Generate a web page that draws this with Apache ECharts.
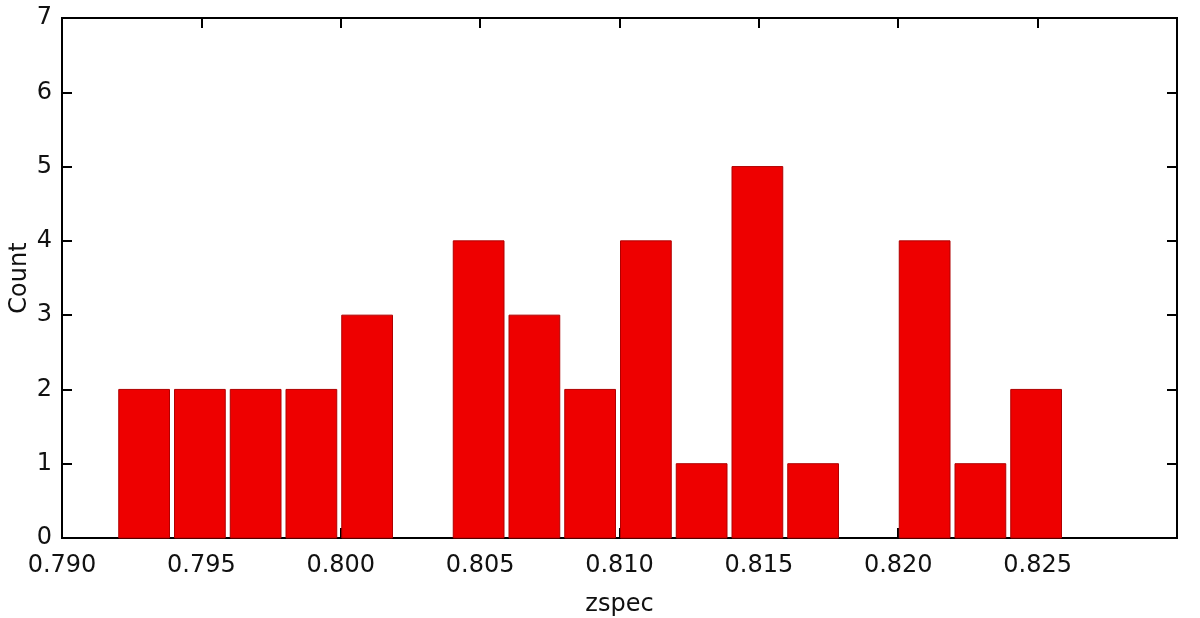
<!DOCTYPE html>
<html>
<head>
<meta charset="utf-8">
<script src="https://cdn.jsdelivr.net/npm/echarts@6/dist/echarts.min.js"></script>
<style>
  html, body { margin: 0; padding: 0; background: #fff; }
  #chart { width: 1200px; height: 618px; }
</style>
</head>
<body>
<div id="chart"></div>
<script>
  // histogram bins (left edge, right edge) and counts
  const binStart = [0.792, 0.794, 0.796, 0.798, 0.800, 0.802, 0.804, 0.806, 0.808,
                    0.810, 0.812, 0.814, 0.816, 0.818, 0.820, 0.822, 0.824];
  const binEnd = [0.794, 0.796, 0.798, 0.800, 0.802, 0.804, 0.806, 0.808, 0.810,
                  0.812, 0.814, 0.816, 0.818, 0.820, 0.822, 0.824, 0.826];
  const counts = [2, 2, 2, 2, 3, 0, 4, 3, 2, 4, 1, 5, 1, 0, 4, 1, 2];
  const xTicks = ['0.790', '0.795', '0.800', '0.805', '0.810', '0.815', '0.820', '0.825'];

  const font = 'DejaVu Sans';
  const txt = '#111';

  const chart = echarts.init(document.getElementById('chart'));

  const barData = [];
  for (let i = 0; i < counts.length; i++) {
    if (counts[i] > 0) barData.push([binStart[i], binEnd[i], counts[i]]);
  }

  // shared axis bits
  const line = { show: true, onZero: false, lineStyle: { color: '#000', width: 2 } };
  const tick = { show: true, inside: true, length: 10, lineStyle: { color: '#000', width: 2 } };

  const option = {
    animation: false,
    backgroundColor: '#fff',
    grid: {
      left: 62, right: 23, top: 18, bottom: 80,
      outerBoundsMode: 'none',
      show: true, borderColor: '#000', borderWidth: 2,
    },
    xAxis: [
      {
        type: 'value',
        gridIndex: 0,
        min: 0.790,
        max: 0.830,
        interval: 0.005,
        name: 'zspec',
        nameLocation: 'middle',
        nameGap: 55,
        nameMoveOverlap: false,
        nameTextStyle: { fontFamily: font, fontSize: 24, color: txt },
        axisLine: line,
        axisTick: tick,
        splitLine: { show: false },
        axisLabel: {
          margin: 16,
          fontFamily: font,
          fontSize: 24,
          color: txt,
          formatter: v => {
            const s = v.toFixed(3);
            return xTicks.indexOf(s) >= 0 ? s : '';
          },
        },
      },
      {
        type: 'value',
        gridIndex: 0,
        position: 'top',
        min: 0.790,
        max: 0.830,
        interval: 0.005,
        axisLine: line,
        axisTick: tick,
        axisLabel: { show: false },
        splitLine: { show: false },
      },
    ],
    yAxis: [
      {
        type: 'value',
        gridIndex: 0,
        min: 0,
        max: 7,
        interval: 1,
        name: 'Count',
        nameLocation: 'middle',
        nameGap: 30,
        nameMoveOverlap: false,
        nameRotate: 90,
        nameTextStyle: { fontFamily: font, fontSize: 24, color: txt },
        axisLine: line,
        axisTick: tick,
        splitLine: { show: false },
        axisLabel: { margin: 10, fontFamily: font, fontSize: 24, color: txt },
      },
      {
        type: 'value',
        gridIndex: 0,
        position: 'right',
        min: 0,
        max: 7,
        interval: 1,
        axisLine: line,
        axisTick: tick,
        axisLabel: { show: false },
        splitLine: { show: false },
      },
    ],
    series: [
      {
        type: 'custom',
        data: barData,
        encode: { x: [0, 1], y: 2 },
        renderItem: (params, api) => {
          const p0 = api.coord([api.value(0), 0]);
          const p1 = api.coord([api.value(1), api.value(2)]);
          return {
            type: 'rect',
            shape: { x: p0[0] + 1, y: p1[1], width: p1[0] - p0[0] - 5, height: p0[1] - p1[1] },
            style: { fill: '#ee0000', stroke: '#b00000', lineWidth: 1 },
          };
        },
        z: 1,
      },
    ],
  };
  option && chart.setOption(option);
</script>
</body>
</html>
